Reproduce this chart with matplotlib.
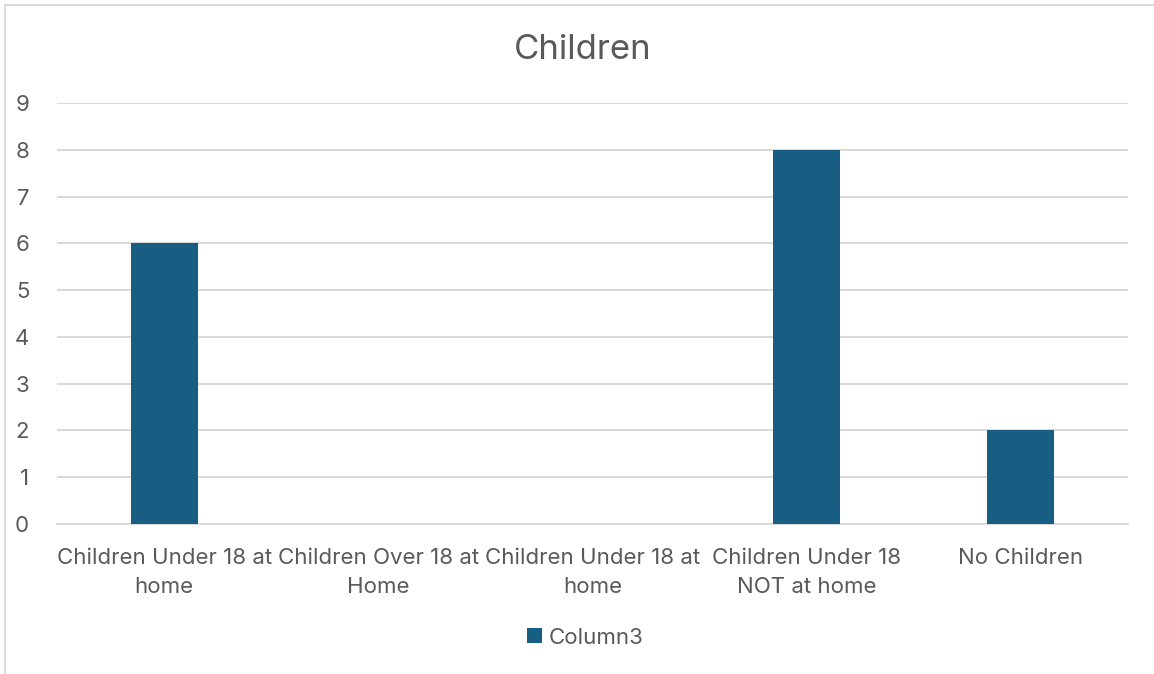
import matplotlib.pyplot as plt
from matplotlib.lines import Line2D
from matplotlib.patches import Patch

# Survey counts by household type
categories = [
    'Children Under 18 at\nhome',
    'Children Over 18 at\nHome',
    'Children Under 18 at\nhome',
    'Children Under 18\nNOT at home',
    'No Children',
]
counts = [6, 0, 0, 8, 2]
series_name = 'Column3'

BAR_COLOR = '#175E82'
TEXT_COLOR = '#595959'
GRID_COLOR = '#D9D9D9'

plt.rcParams['font.family'] = ['Inter', 'DejaVu Sans']

fig = plt.figure(figsize=(11.54, 6.74), dpi=100)
ax = fig.add_axes([0.0494, 0.2226, 0.9281, 0.6246])

x = range(len(categories))
ax.bar(x, counts, width=0.313, color=BAR_COLOR, zorder=3)

ax.set_xlim(-0.5, len(categories) - 0.5)
ax.set_ylim(0, 9)
ax.set_yticks(range(0, 10))
ax.set_xticks(list(x))
ax.set_xticklabels(categories, fontsize=16, color=TEXT_COLOR, linespacing=1.6)
ax.tick_params(axis='y', labelsize=16, labelcolor=TEXT_COLOR, length=0, pad=20)
ax.tick_params(axis='x', length=0, pad=17)

ax.grid(axis='y', color=GRID_COLOR, linewidth=1.4, zorder=0)
for side in ['top', 'right', 'left']:
    ax.spines[side].set_visible(False)
ax.spines['bottom'].set_color(GRID_COLOR)
ax.spines['bottom'].set_linewidth(1.4)

fig.text(0.505, 0.926, 'Children', ha='center', va='center',
         fontsize=25, color=TEXT_COLOR)

handles = [Patch(facecolor=BAR_COLOR, edgecolor='none', label=series_name)]
fig.legend(handles=handles, loc='center', bbox_to_anchor=(0.507, 0.054),
           frameon=False, fontsize=16, labelcolor=TEXT_COLOR,
           handlelength=0.65, handleheight=0.65, handletextpad=0.3)

# thin chart-area frame along the left and top edges
fig.add_artist(Line2D([0.0045, 0.0045], [0, 0.9925], color=GRID_COLOR,
                      linewidth=1.4, transform=fig.transFigure))
fig.add_artist(Line2D([0.0045, 1], [0.9925, 0.9925], color=GRID_COLOR,
                      linewidth=1.4, transform=fig.transFigure))

fig.savefig('out.png', dpi=100)
